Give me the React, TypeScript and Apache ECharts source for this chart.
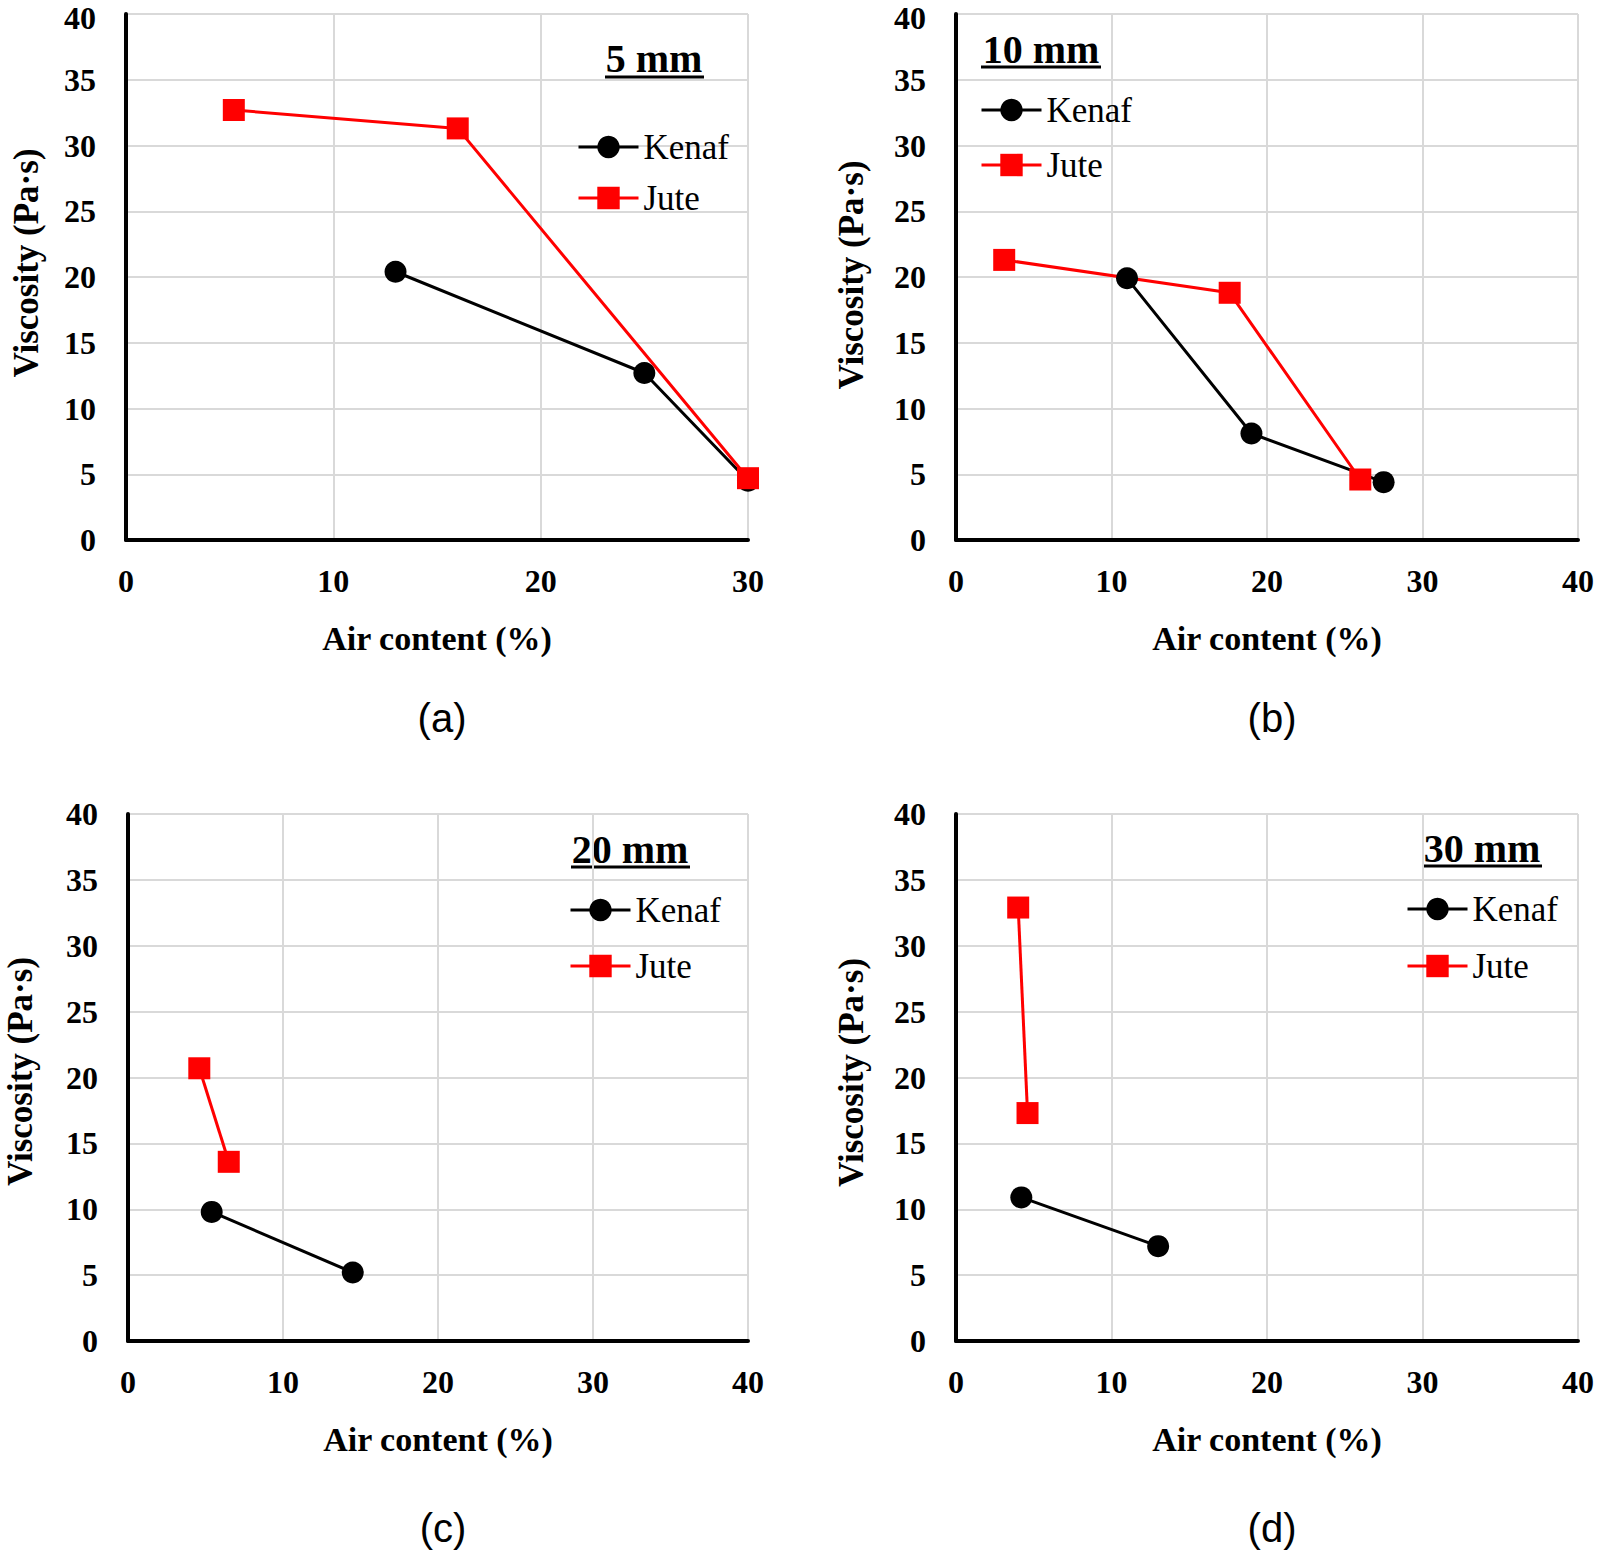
import React, { useEffect, useRef } from "react";
import * as echarts from "echarts";

// ---- Data (air content %, viscosity Pa·s) ----
const panelTitles = ["5 mm", "10 mm", "20 mm", "30 mm"];
const panelLetters = ["(a)", "(b)", "(c)", "(d)"];
const xMaxes = [30, 40, 40, 40];
const seriesNames = ["Kenaf", "Jute"];

const kenaf5 = [[13.0, 20.4], [25.0, 12.7], [30.0, 4.5]];
const jute5 = [[5.2, 32.7], [16.0, 31.3], [30.0, 4.7]];
const kenaf10 = [[11.0, 19.9], [19.0, 8.1], [27.5, 4.4]];
const jute10 = [[3.1, 21.3], [17.6, 18.8], [26.0, 4.6]];
const kenaf20 = [[5.4, 9.8], [14.5, 5.2]];
const jute20 = [[4.6, 20.7], [6.5, 13.6]];
const kenaf30 = [[4.2, 10.9], [13.0, 7.2]];
const jute30 = [[4.0, 32.9], [4.6, 17.3]];

const kenafData = [kenaf5, kenaf10, kenaf20, kenaf30];
const juteData = [jute5, jute10, jute20, jute30];

const SERIF = "'Liberation Serif', 'Times New Roman', serif";
const SANS = "'Liberation Sans', Arial, sans-serif";

export default function App() {
  const ref = useRef<HTMLDivElement>(null);

  useEffect(() => {
    document.body.style.margin = "0";
    if (!ref.current) return;
    const chart = echarts.init(ref.current, null, { renderer: "svg" });

    const grids = [
      { left: 126, top: 14, width: 622, height: 526, outerBoundsMode: "none", containLabel: false },
      { left: 956, top: 14, width: 622, height: 526, outerBoundsMode: "none", containLabel: false },
      { left: 128, top: 814, width: 620, height: 527, outerBoundsMode: "none", containLabel: false },
      { left: 956, top: 814, width: 622, height: 527, outerBoundsMode: "none", containLabel: false },
    ];
    const yNameGaps = [82, 87, 90, 87];
    const yNamePad = [28, 4, 12, 10];
    const legendPos = [
      { left: 577, top: 129.5, gap: 16 },
      { left: 980, top: 92.5, gap: 20 },
      { left: 569, top: 892.5, gap: 21 },
      { left: 1406, top: 891.5, gap: 22 },
    ];
    const titlePos = [
      { x: 654, y: 58, ux1: 605, ux2: 704, uy: 77 },
      { x: 1041, y: 49, ux1: 981, ux2: 1101, uy: 67 },
      { x: 630, y: 849, ux1: 571, ux2: 690, uy: 867 },
      { x: 1482, y: 848, ux1: 1423, ux2: 1542, uy: 866 },
    ];
    const letterPos = [
      { x: 442, y: 718 },
      { x: 1272, y: 718 },
      { x: 443, y: 1528 },
      { x: 1272, y: 1528 },
    ];

    const labelFont = { fontFamily: SERIF, fontWeight: "bold", fontSize: 32, color: "#000" };

    const xAxis = grids.map((_, i) => ({
      type: "value",
      gridIndex: i,
      min: 0,
      max: xMaxes[i],
      interval: 10,
      name: "Air content (%)",
      nameLocation: "middle",
      nameGap: 81,
      nameTextStyle: { fontFamily: SERIF, fontWeight: "bold", fontSize: 34, color: "#000" },
      axisLine: { show: true, onZero: false, lineStyle: { color: "#000", width: 4 } },
      axisTick: { show: false },
      axisLabel: { ...labelFont, margin: 25 },
      splitLine: { show: true, lineStyle: { color: "#d9d9d9", width: 2 } },
    }));

    const yAxis = grids.map((_, i) => ({
      type: "value",
      gridIndex: i,
      min: 0,
      max: 40,
      interval: 5,
      name: "Viscosity (Pa·s)",
      nameLocation: "middle",
      nameGap: yNameGaps[i],
      nameTextStyle: {
        fontFamily: SERIF,
        fontWeight: "bold",
        fontSize: 35,
        color: "#000",
        padding: [0, 0, 0, yNamePad[i]],
      },
      axisLine: { show: true, onZero: false, lineStyle: { color: "#000", width: 4 } },
      axisTick: { show: false },
      axisLabel: {
        ...labelFont,
        lineHeight: 26,
        margin: 30,
        formatter: (v: number) => (i < 2 && v === 40 ? "{top|" + v + "}" : String(v)),
        rich: {
          top: { ...labelFont, lineHeight: 26, padding: [8, 0, 0, 0] },
        },
      },
      splitLine: { show: true, lineStyle: { color: "#d9d9d9", width: 2 } },
    }));

    const series: any[] = [];
    grids.forEach((_, i) => {
      series.push({
        type: "line",
        name: seriesNames[0],
        xAxisIndex: i,
        yAxisIndex: i,
        data: kenafData[i],
        symbol: "circle",
        symbolSize: 22,
        lineStyle: { color: "#000", width: 3 },
        itemStyle: { color: "#000" },
        clip: false,
      });
      series.push({
        type: "line",
        name: seriesNames[1],
        xAxisIndex: i,
        yAxisIndex: i,
        data: juteData[i],
        symbol: "rect",
        symbolSize: 22,
        lineStyle: { color: "#ff0000", width: 3 },
        itemStyle: { color: "#ff0000" },
        clip: false,
      });
    });

    const legend = legendPos.map((p) => ({
      data: seriesNames,
      orient: "vertical",
      left: p.left,
      top: p.top,
      padding: 0,
      itemGap: p.gap,
      itemWidth: 60,
      itemHeight: 28,
      selectedMode: false,
      lineStyle: { width: 3 },
      textStyle: { fontFamily: SERIF, fontSize: 35, color: "#000" },
    }));

    const graphic: any[] = [];
    titlePos.forEach((p, i) => {
      graphic.push({
        type: "text",
        x: p.x,
        y: p.y,
        style: {
          text: panelTitles[i],
          fontFamily: SERIF,
          fontWeight: "bold",
          fontSize: 40,
          fill: "#000",
          align: "center",
          verticalAlign: "middle",
        },
      });
      graphic.push({
        type: "line",
        shape: { x1: p.ux1, y1: p.uy, x2: p.ux2, y2: p.uy },
        style: { stroke: "#000", lineWidth: 3 },
      });
    });
    letterPos.forEach((p, i) => {
      graphic.push({
        type: "text",
        x: p.x,
        y: p.y,
        style: {
          text: panelLetters[i],
          fontFamily: SANS,
          fontSize: 40,
          fill: "#000",
          align: "center",
          verticalAlign: "middle",
        },
      });
    });

    chart.setOption({
      animation: false,
      backgroundColor: "#fff",
      grid: grids,
      xAxis,
      yAxis,
      legend,
      series,
      graphic,
    });

    return () => chart.dispose();
  }, []);

  return <div ref={ref} style={{ width: 1598, height: 1555 }} />;
}
